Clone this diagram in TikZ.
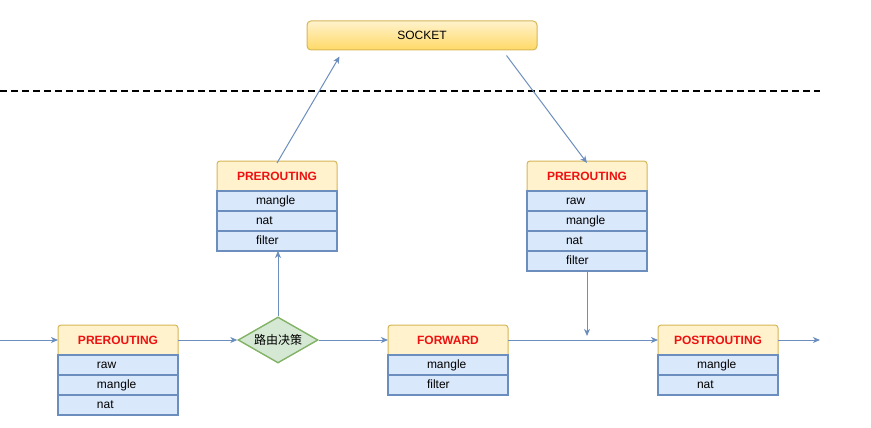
\documentclass[tikz,border=0pt]{standalone}
\usepackage{fontspec}
\setmainfont{Liberation Sans}
\newfontfamily\cjk{Noto Sans CJK SC}
\usetikzlibrary{shapes.geometric,arrows.meta,backgrounds}
\definecolor{hdrfill}{HTML}{FFF2CC}
\definecolor{hdrline}{HTML}{D6B656}
\definecolor{sockbot}{HTML}{FFD966}
\definecolor{rowfill}{HTML}{DAE8FC}
\definecolor{rowline}{HTML}{6C8EBF}
\definecolor{diafill}{HTML}{D5E8D4}
\definecolor{dialine}{HTML}{82B366}
\definecolor{linec}{HTML}{6C8EBF}
\definecolor{hdrtext}{HTML}{EE1111}
\tikzset{
  hdrnode/.style={minimum width=120pt, minimum height=30pt, inner sep=0pt, outer sep=0pt,
    font=\fontsize{12pt}{14pt}\selectfont\bfseries, text=hdrtext},
  hdrbox/.style={fill=hdrfill, draw=hdrline, line width=1pt, rounded corners=3pt},
  rowbox/.style={draw=rowline, fill=rowfill, line width=1.4pt, minimum height=20pt,
    text width=120pt, inner xsep=0pt, inner ysep=0pt, outer sep=0pt, align=left,
    text height=9pt, text depth=3pt,
    font=\fontsize{12pt}{14pt}\selectfont, anchor=north},
  conn/.style={draw=linec, line width=1pt, -{Stealth[length=7pt,width=6pt,inset=2pt]}},
}
\newcommand{\hdrback}[1]{%
  \begin{scope}[on background layer]
    \path[hdrbox] (#1.north west) rectangle ([yshift=-6pt]#1.south east);
  \end{scope}}
\begin{document}
\begin{tikzpicture}[x=1pt,y=-1pt]
\useasboundingbox (0,0) rectangle (871,428);

% SOCKET
\node[rounded corners=4pt, draw=hdrline, line width=1pt, top color=hdrfill, bottom color=sockbot,
  minimum width=230pt, minimum height=29pt, inner sep=0pt,
  font=\fontsize{12pt}{14pt}\selectfont] (sock) at (422,35.5) {SOCKET};

% dashed separator
\coordinate (dl) at (0,91);
\coordinate (dr) at (820,91);
\draw[black, line width=1.8pt, dash pattern=on 7pt off 4pt] (dl) -- (dr);

% bottom-left PREROUTING
\node[hdrnode] (p1h) at (118,340) {PREROUTING};
\hdrback{p1h}
\node[rowbox] (p1a) at (p1h.south) {\hspace*{39pt}raw};
\node[rowbox] (p1b) at (p1a.south) {\hspace*{39pt}mangle};
\node[rowbox] (p1c) at (p1b.south) {\hspace*{39pt}nat};

% decision diamond
\node[diamond, draw=dialine, fill=diafill, line width=1.4pt, minimum width=80pt, minimum height=46pt,
  inner sep=0pt, shape aspect=1.74, font=\cjk\fontsize{12pt}{14pt}\selectfont] (dia) at (278,340) {路由决策};

% middle-top PREROUTING
\node[hdrnode] (p2h) at (277,176) {PREROUTING};
\hdrback{p2h}
\node[rowbox] (p2a) at (p2h.south) {\hspace*{39pt}mangle};
\node[rowbox] (p2b) at (p2a.south) {\hspace*{39pt}nat};
\node[rowbox] (p2c) at (p2b.south) {\hspace*{39pt}filter};

% right-top PREROUTING
\node[hdrnode] (p3h) at (587,176) {PREROUTING};
\hdrback{p3h}
\node[rowbox] (p3a) at (p3h.south) {\hspace*{39pt}raw};
\node[rowbox] (p3b) at (p3a.south) {\hspace*{39pt}mangle};
\node[rowbox] (p3c) at (p3b.south) {\hspace*{39pt}nat};
\node[rowbox] (p3d) at (p3c.south) {\hspace*{39pt}filter};

% FORWARD
\node[hdrnode] (fwh) at (448,340) {FORWARD};
\hdrback{fwh}
\node[rowbox] (fwa) at (fwh.south) {\hspace*{39pt}mangle};
\node[rowbox] (fwb) at (fwa.south) {\hspace*{39pt}filter};

% POSTROUTING
\node[hdrnode] (poh) at (718,340) {POSTROUTING};
\hdrback{poh}
\node[rowbox] (poa) at (poh.south) {\hspace*{39pt}mangle};
\node[rowbox] (pob) at (poa.south) {\hspace*{39pt}nat};

% connectors
\coordinate (in) at (0,340);
\coordinate (out) at (820,340);
\coordinate (sockin) at ([shift={(33,6)}]sock.south west);
\coordinate (sockout) at ([shift={(200,5)}]sock.south west);
\coordinate (merge) at (587,336);

\draw[conn] (in) -- (p1h.west);
\draw[conn] (p1h.east) -- (dia.west);
\draw[conn] (dia.east) -- (fwh.west);
\draw[conn] (dia.north) -- (dia.north |- p2c.south);
\draw[conn] ([yshift=-2pt]p2h.north) -- (sockin);
\draw[conn] (sockout) -- ([yshift=-2pt]p3h.north);
\draw[conn] (p3d.south) -- (merge);
\draw[conn] (fwh.east) -- (poh.west);
\draw[conn] (poh.east) -- (out);
\end{tikzpicture}
\end{document}
